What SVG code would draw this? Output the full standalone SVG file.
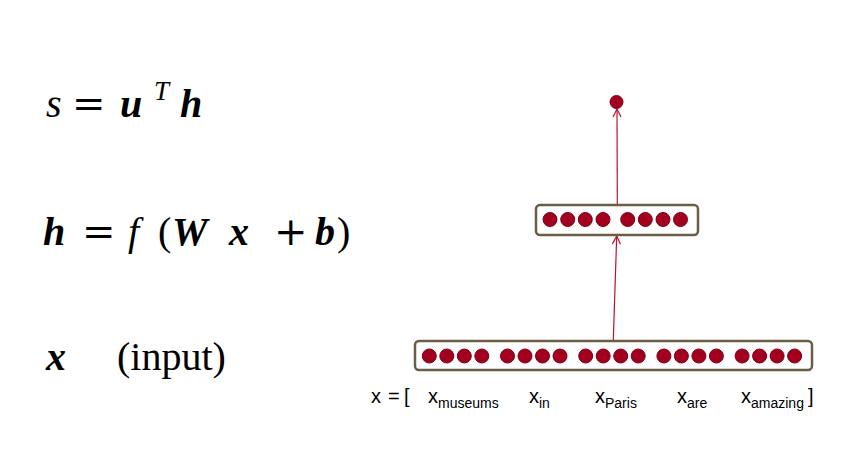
<svg xmlns="http://www.w3.org/2000/svg" width="853" height="458" viewBox="0 0 853 458">
<style>
.m{font-family:"Liberation Serif","Times New Roman",serif;font-size:40px;fill:#000}
.op{font-family:"DejaVu Serif",serif;font-size:40px}
.bi{font-weight:bold;font-style:italic}
.it{font-style:italic}
.box{fill:#fff;stroke:#6b5e45;stroke-width:2.5}
.dot{fill:#a30020;stroke:#7d0018;stroke-width:1}
.lbl{font-family:"Liberation Sans",Arial,sans-serif;font-size:20px;fill:#000}
.sub{font-size:14px}
.edge{stroke:#b8142e;stroke-width:1.2;fill:none}
</style>
<defs>
<marker id="ah" viewBox="0 0 10 10" refX="9" refY="5" markerWidth="10" markerHeight="10" markerUnits="userSpaceOnUse" orient="auto">
<path d="M1,1 L9,5 L1,9" fill="none" stroke="#b8142e" stroke-width="1.2"/>
</marker>
</defs>
<rect width="853" height="458" fill="#fff"/>
<g id="eq1">
<text class="m" y="117"><tspan x="46" class="it">s</tspan><tspan x="72" class="op">=</tspan><tspan x="120" class="bi">u</tspan><tspan x="154" y="100" class="it" font-size="27">T</tspan><tspan x="180" y="117" class="bi">h</tspan></text>
</g>
<g id="eq2">
<text class="m" y="245"><tspan x="43" class="bi">h</tspan><tspan x="82" class="op">=</tspan><tspan x="128" class="it">f</tspan><tspan x="158">(</tspan><tspan x="172" class="bi">W</tspan><tspan x="229" class="bi">x</tspan><tspan x="274" class="op">+</tspan><tspan x="315" class="bi">b</tspan><tspan x="337">)</tspan></text>
</g>
<g id="eq3">
<text class="m" y="370"><tspan x="46" class="bi">x</tspan><tspan x="117">(input)</tspan></text>
</g>
<g id="connectors">
<line class="edge" x1="613.3" y1="340" x2="616.7" y2="236" marker-end="url(#ah)"/>
<line class="edge" x1="617.3" y1="204" x2="617" y2="109" marker-end="url(#ah)"/>
</g>
<g id="output">
<circle class="dot" cx="616.5" cy="102" r="6.5"/>
</g>
<g id="hidden">
<rect class="box" x="536" y="205" width="162" height="30" rx="4"/>
<circle class="dot" cx="550" cy="219.5" r="7"/>
<circle class="dot" cx="567.7" cy="219.5" r="7"/>
<circle class="dot" cx="585.3" cy="219.5" r="7"/>
<circle class="dot" cx="603" cy="219.5" r="7"/>
<circle class="dot" cx="627.7" cy="219.5" r="7"/>
<circle class="dot" cx="645.3" cy="219.5" r="7"/>
<circle class="dot" cx="663" cy="219.5" r="7"/>
<circle class="dot" cx="680.5" cy="219.5" r="7"/>
</g>
<g id="input">
<rect class="box" x="415" y="341" width="397" height="29" rx="4"/>
<g>
<circle class="dot" cx="429.3" cy="356" r="7"/>
<circle class="dot" cx="446.8" cy="356" r="7"/>
<circle class="dot" cx="464.3" cy="356" r="7"/>
<circle class="dot" cx="481.8" cy="356" r="7"/>
<circle class="dot" cx="507.5" cy="356" r="7"/>
<circle class="dot" cx="525" cy="356" r="7"/>
<circle class="dot" cx="542.5" cy="356" r="7"/>
<circle class="dot" cx="560" cy="356" r="7"/>
<circle class="dot" cx="585.7" cy="356" r="7"/>
<circle class="dot" cx="603.2" cy="356" r="7"/>
<circle class="dot" cx="620.7" cy="356" r="7"/>
<circle class="dot" cx="638.2" cy="356" r="7"/>
<circle class="dot" cx="663.9" cy="356" r="7"/>
<circle class="dot" cx="681.4" cy="356" r="7"/>
<circle class="dot" cx="698.9" cy="356" r="7"/>
<circle class="dot" cx="716.4" cy="356" r="7"/>
<circle class="dot" cx="742.1" cy="356" r="7"/>
<circle class="dot" cx="759.6" cy="356" r="7"/>
<circle class="dot" cx="777.1" cy="356" r="7"/>
<circle class="dot" cx="794.6" cy="356" r="7"/>
</g>
</g>
<g id="labels">
<text class="lbl" y="403"><tspan x="371">x</tspan><tspan x="388">=</tspan><tspan x="404">[</tspan></text>
<text class="lbl" y="403" x="428">x<tspan class="sub" y="408">museums</tspan></text>
<text class="lbl" y="403" x="529">x<tspan class="sub" y="408">in</tspan></text>
<text class="lbl" y="403" x="595">x<tspan class="sub" y="408">Paris</tspan></text>
<text class="lbl" y="403" x="677">x<tspan class="sub" y="408">are</tspan></text>
<text class="lbl" y="403" x="741">x<tspan class="sub" y="408">amazing</tspan></text>
<text class="lbl" y="403" x="808">]</text>
</g>
</svg>
